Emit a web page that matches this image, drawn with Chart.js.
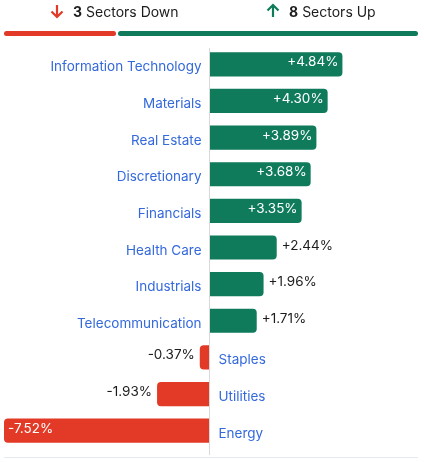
<!DOCTYPE html>
<html>
<head>
<meta charset="utf-8">
<script src="https://cdn.jsdelivr.net/npm/chart.js@4"></script>
<style>
  body { margin: 0; background: #fff; font-family: Inter, "Noto Sans", sans-serif; }
  #wrap { position: relative; width: 424px; height: 462px; }
  #chart { position: absolute; left: 0; top: 0; }
  .head { position: absolute; top: 1px; font-size: 14px; color: #1c1c1c; display: flex; align-items: center; height: 20px; }
  .head b { margin-right: 4px; }
  .head svg { margin-right: 8px; }
  .strip { position: absolute; top: 31px; height: 5px; border-radius: 3px; }
</style>
</head>
<body>
<div id="wrap">
  <canvas id="chart" width="424" height="462"></canvas>
  <div class="head" style="left:49px">
    <svg width="16" height="16" viewBox="0 0 16 16"><path d="M8 2 V14 M2.5 8.5 L8 14 L13.5 8.5" stroke="#e23a26" stroke-width="2.2" fill="none"/></svg>
    <b>3</b>Sectors Down
  </div>
  <div class="head" style="left:265px">
    <svg width="16" height="16" viewBox="0 0 16 16"><path d="M8 14 V2 M2.5 7.5 L8 2 L13.5 7.5" stroke="#0f7b5b" stroke-width="2.2" fill="none"/></svg>
    <b>8</b>Sectors Up
  </div>
  <div class="strip" style="left:4px; width:112px; background:#e23a26"></div>
  <div class="strip" style="left:118px; width:300px; background:#0f7b5b"></div>
</div>
<script>
// Secteurs et variations (%)
const sectors = ['Information Technology', 'Materials', 'Real Estate', 'Discretionary', 'Financials',
  'Health Care', 'Industrials', 'Telecommunication', 'Staples', 'Utilities', 'Energy'];
const changes = [4.84, 4.30, 3.89, 3.68, 3.35, 2.44, 1.96, 1.71, -0.37, -1.93, -7.52];

const green = '#0f7b5b';
const red = '#e23a26';
const font = '13.5px Inter, "Noto Sans", sans-serif';

function fmt(v) {
    return (v > 0 ? '+' : '') + v.toFixed(2) + '%';
}

// Libellés et valeurs dessinés à la main
const labelsPlugin = {
    id: 'labelsPlugin',
    afterDatasetsDraw(chart) {
        const ctx = chart.ctx;
        const x = chart.scales.x;
        const zero = Math.round(x.getPixelForValue(0)) + 0.5;
        const meta = chart.getDatasetMeta(0);
        ctx.save();
        // ligne du zéro
        ctx.strokeStyle = '#d9d9d9';
        ctx.lineWidth = 1;
        ctx.beginPath();
        ctx.moveTo(zero - 1, 48);
        ctx.lineTo(zero - 1, 455);
        ctx.stroke();
        // ligne du bas
        ctx.strokeStyle = '#e4eaf1';
        ctx.beginPath();
        ctx.moveTo(4, 457.5);
        ctx.lineTo(418, 457.5);
        ctx.stroke();

        ctx.font = font;
        ctx.textBaseline = 'middle';
        meta.data.forEach((bar, i) => {
            const v = changes[i];
            const y = bar.y;
            const w = Math.abs(bar.x - bar.base);
            // nom du secteur
            ctx.fillStyle = '#3469dc';
            if (v >= 0) {
                ctx.textAlign = 'right';
                ctx.fillText(sectors[i], zero - 9, y + 3);
            } else {
                ctx.textAlign = 'left';
                ctx.fillText(sectors[i], zero + 8, y + 3);
            }
            // valeur
            const inside = w > 80;
            if (v >= 0) {
                ctx.textAlign = inside ? 'right' : 'left';
                ctx.fillStyle = inside ? '#fff' : '#1c1c1c';
                ctx.fillText(fmt(v), inside ? bar.x - 4 : bar.x + 5, y - 2);
            } else {
                ctx.textAlign = inside ? 'left' : 'right';
                ctx.fillStyle = inside ? '#fff' : '#1c1c1c';
                ctx.fillText(fmt(v), inside ? bar.x + 4 : bar.x - 5, y - 2);
            }
        });
        ctx.restore();
    }
};

new Chart(document.getElementById('chart'), {
    type: 'bar',
    data: {
        labels: sectors,
        datasets: [{
            data: changes,
            backgroundColor: changes.map(v => v >= 0 ? green : red),
            borderRadius: 4,
            borderSkipped: 'start',
            barPercentage: 0.66,
            categoryPercentage: 1
        }]
    },
    options: {
        indexAxis: 'y',
        responsive: false,
        animation: false,
        layout: { padding: { top: 46, bottom: 13, left: 4, right: 6 } },
        scales: {
            x: { display: false, min: -7.52, max: 7.6 },
            y: { display: false }
        },
        plugins: {
            legend: { display: false },
            tooltip: { enabled: false }
        }
    },
    plugins: [labelsPlugin]
});
</script>
</body>
</html>
